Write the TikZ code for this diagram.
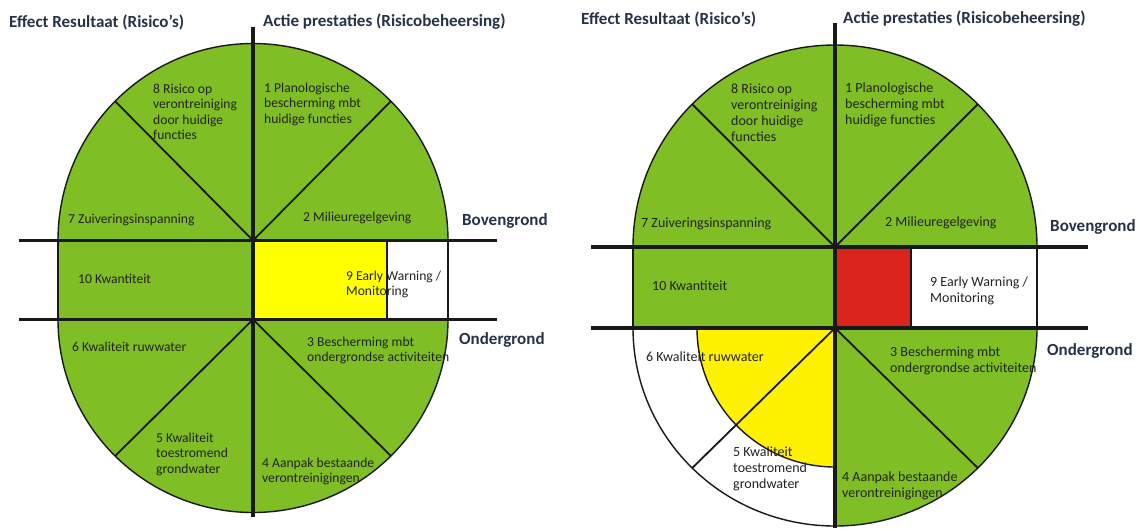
\documentclass[tikz,border=0pt]{standalone}
\usepackage{fontspec}
\setmainfont{Carlito}
\definecolor{vgreen}{RGB}{128,190,38}
\definecolor{vyellowA}{RGB}{255,255,0}
\definecolor{vyellowB}{RGB}{255,242,0}
\definecolor{vred}{RGB}{217,37,29}
\definecolor{headc}{RGB}{38,50,72}
\definecolor{labc}{RGB}{35,35,35}
\definecolor{linec}{RGB}{25,25,25}
\begin{document}
\begin{tikzpicture}[x=1pt,y=-1pt,
  axis/.style={line width=3.4pt, linec},
  spoke/.style={line width=1.8pt, linec},
  rim/.style={line width=1.4pt, linec},
  head/.style={font=\fontsize{17}{19}\selectfont\bfseries, text=headc, inner sep=0pt, anchor=west},
  side/.style={font=\fontsize{17}{19}\selectfont\bfseries, text=headc, inner sep=0pt, anchor=west},
  labL/.style={font=\fontsize{13.6}{15.3}\selectfont, text=labc, inner sep=0pt, anchor=north west, align=left},
  labR/.style={font=\fontsize{14}{16}\selectfont, text=labc, inner sep=0pt, anchor=north west, align=left},
]
\useasboundingbox (0,0) rectangle (1143,528);
\fill[white] (0,0) rectangle (1143,528);

% ---------------- left diagram ----------------
\coordinate (LU) at (253,240.5);
\coordinate (LD) at (253,319.5);
\begin{scope}
  \clip (0,0) rectangle (1143,240.5);
  \fill[vgreen] (LU) ellipse [x radius=195, y radius=197];
  \draw[rim] (LU) ellipse [x radius=195, y radius=197];
\end{scope}
\begin{scope}
  \clip (0,319.5) rectangle (1143,528);
  \fill[vgreen] (LD) ellipse [x radius=195, y radius=193];
  \draw[rim] (LD) ellipse [x radius=195, y radius=193];
\end{scope}
\fill[vgreen] (58,240.5) rectangle (253,319.5);
\fill[vyellowA] (253,240.5) rectangle (387,319.5);
\draw[rim] (58,240.5) -- (58,319.5);
\draw[rim] (448,240.5) -- (448,319.5);
\draw[rim] (387,240.5) -- (387,319.5);
\draw[spoke] (LU) -- ++(-137.9,-139.3);
\draw[spoke] (LU) -- ++(137.9,-139.3);
\draw[spoke] (LD) -- ++(-137.9,136.5);
\draw[spoke] (LD) -- ++(137.9,136.5);
\draw[axis] (253,27) -- (253,517);
\draw[axis] (19,240.5) -- (497,240.5);
\draw[axis] (19,319.5) -- (497,319.5);

\node[head] (lh1) at (9,22) {Effect Resultaat (Risico’s)};
\node[head] (lh2) at (263,22) {Actie prestaties (Risicobeheersing)};
\node[side] (lbg) at (462,221) {Bovengrond};
\node[side] (log) at (459,340) {Ondergrond};
\node[labL] (l8) at (153,84) {8 Risico op\\verontreiniging\\door huidige\\functies};
\node[labL] (l1) at (264,83) {1 Planologische\\bescherming mbt\\huidige functies};
\node[labL] (l7) at (68,214) {7 Zuiveringsinspanning};
\node[labL] (l2) at (303,212) {2 Milieuregelgeving};
\node[labL] (l10) at (78,274) {10 Kwantiteit};
\node[labL] (l9) at (346,271) {9 Early Warning /\\Monitoring};
\node[labL] (l6) at (72,342) {6 Kwaliteit ruwwater};
\node[labL] (l3) at (307,337) {3 Bescherming mbt\\ondergrondse activiteiten};
\node[labL] (l5) at (156,433) {5 Kwaliteit\\toestromend\\grondwater};
\node[labL] (l4) at (262,458) {4 Aanpak bestaande\\verontreinigingen};

% ---------------- right diagram ----------------
\coordinate (RU) at (835,247);
\coordinate (RD) at (835,328);
\begin{scope}
  \clip (0,0) rectangle (1143,247);
  \fill[vgreen] (RU) ellipse [x radius=202, y radius=202];
  \draw[rim] (RU) ellipse [x radius=202, y radius=202];
\end{scope}
\begin{scope}
  \clip (835,328) rectangle (1143,528);
  \fill[vgreen] (RD) ellipse [x radius=202, y radius=198];
\end{scope}
\begin{scope}
  \clip (0,328) rectangle (835,528);
  \fill[vyellowB] (RD) ellipse [x radius=138, y radius=139];
  \draw[rim] (RD) ellipse [x radius=138, y radius=139];
\end{scope}
\begin{scope}
  \clip (0,328) rectangle (1143,528);
  \draw[rim] (RD) ellipse [x radius=202, y radius=198];
\end{scope}
\fill[vgreen] (633,247) rectangle (835,328);
\fill[vred] (835,247) rectangle (911,328);
\draw[rim] (633,247) -- (633,328);
\draw[rim] (1037,247) -- (1037,328);
\draw[rim] (911,247) -- (911,328);
\draw[spoke] (RU) -- ++(-142.8,-142.8);
\draw[spoke] (RU) -- ++(142.8,-142.8);
\draw[spoke] (RD) -- ++(-142.8,140);
\draw[spoke] (RD) -- ++(142.8,140);
\draw[axis] (835,23) -- (835,528);
\draw[axis] (591,247) -- (1088,247);
\draw[axis] (591,328) -- (1088,328);

\node[head] (rh1) at (581,19) {Effect Resultaat (Risico’s)};
\node[head] (rh2) at (843,19) {Actie prestaties (Risicobeheersing)};
\node[side] (rbg) at (1050,227) {Bovengrond};
\node[side] (rog) at (1047,351) {Ondergrond};
\node[labR] (r8) at (731,84) {8 Risico op\\verontreiniging\\door huidige\\functies};
\node[labR] (r1) at (845,83) {1 Planologische\\bescherming mbt\\huidige functies};
\node[labR] (r7) at (641,218) {7 Zuiveringsinspanning};
\node[labR] (r2) at (885,217) {2 Milieuregelgeving};
\node[labR] (r10) at (652,281) {10 Kwantiteit};
\node[labR] (r9) at (930,277) {9 Early Warning /\\Monitoring};
\node[labR] (r6) at (646,352) {6 Kwaliteit ruwwater};
\node[labR] (r3) at (890,347) {3 Bescherming mbt\\ondergrondse activiteiten};
\node[labR] (r5) at (733,447) {5 Kwaliteit\\toestromend\\grondwater};
\node[labR] (r4) at (842,472) {4 Aanpak bestaande\\verontreinigingen};
\end{tikzpicture}
\end{document}
